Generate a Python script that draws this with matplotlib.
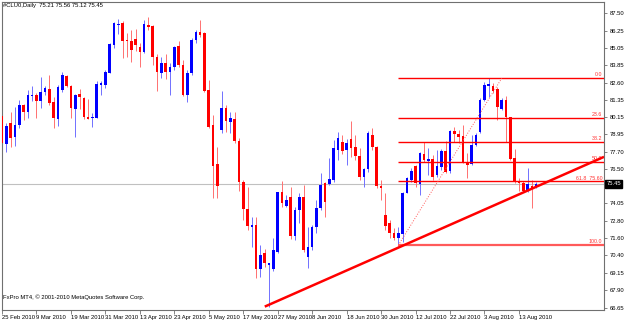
import matplotlib
matplotlib.use("Agg")
import matplotlib.pyplot as plt  # noqa: E402
import matplotlib.transforms as mtransforms  # noqa: E402

plt.rcParams["font.family"] = ["Liberation Sans", "DejaVu Sans"]
FS = 4.2

# daily bars #CLU0, bar 1 = 25 Feb 2010 ... bar 125 = 19 Aug 2010
OPEN = [80.23, 78.23, 79.76, 78.72, 79.60, 80.99, 80.51, 81.65, 81.72, 81.31,
        81.93, 82.16, 81.22, 80.00, 82.07, 83.06, 82.35, 80.75, 81.77, 81.53,
        80.16, 80.07, 80.11, 82.45, 82.45, 83.30, 85.26, 86.67, 86.79, 85.61,
        85.52, 85.66, 85.14, 84.78, 86.69, 86.60, 84.43, 83.25, 84.00, 83.37,
        83.68, 85.19, 83.84, 81.72, 83.25, 85.61, 86.20, 86.13, 82.07, 79.57,
        76.83, 79.24, 80.78, 79.83, 80.00, 78.48, 75.58, 73.63, 72.40, 72.52,
        69.38, 70.51, 69.69, 69.38, 70.59, 74.83, 73.86, 74.52, 71.74, 73.58,
        74.52, 70.23, 70.94, 72.40, 73.74, 75.47, 75.42, 75.70, 77.83, 78.41,
        77.83, 78.58, 78.06, 77.40, 75.89, 76.46, 78.89, 78.02, 75.28, 73.22,
        72.64, 71.97, 71.58, 71.88, 74.80, 75.70, 76.69, 75.42, 77.54, 77.07,
        77.17, 76.06, 76.64, 77.78, 76.36, 79.19, 78.96, 78.82, 77.00, 76.83,
        78.18, 79.12, 81.36, 82.35, 82.35, 82.12, 80.71, 81.36, 80.14, 77.24,
        75.65, 75.51, 74.99, 75.28, 75.21]
HIGH = [80.37, 79.71, 80.54, 80.89, 81.36, 81.08, 82.07, 82.35, 81.84, 83.01,
        82.35, 83.13, 81.55, 82.43, 83.35, 83.11, 82.43, 81.79, 82.16, 81.60,
        81.41, 80.42, 82.73, 82.73, 83.49, 85.38, 86.91, 87.07, 86.98, 86.08,
        86.32, 86.37, 85.38, 87.03, 87.26, 86.67, 84.62, 84.43, 84.62, 84.00,
        85.19, 85.56, 84.19, 83.49, 85.75, 86.32, 87.03, 86.20, 82.78, 80.30,
        78.06, 82.02, 81.01, 80.54, 80.54, 78.65, 75.70, 75.23, 73.10, 73.10,
        71.10, 70.80, 69.85, 71.58, 74.87, 75.63, 74.64, 75.23, 73.81, 74.80,
        75.35, 72.40, 72.52, 74.29, 76.18, 75.58, 77.24, 78.53, 79.12, 78.89,
        78.58, 79.88, 78.89, 77.95, 76.53, 79.19, 79.36, 78.11, 75.70, 74.76,
        72.87, 72.28, 72.40, 74.87, 75.94, 76.53, 76.76, 77.71, 78.41, 77.95,
        77.47, 77.83, 77.88, 78.48, 79.24, 79.47, 79.24, 79.60, 77.59, 78.89,
        79.01, 81.48, 82.66, 82.90, 82.59, 82.30, 81.48, 81.65, 80.18, 77.88,
        75.82, 75.65, 76.53, 75.70, 75.56]
LOW = [77.00, 77.70, 78.02, 78.11, 79.36, 79.95, 80.07, 81.31, 80.07, 80.78,
       81.72, 81.01, 79.36, 79.52, 81.95, 82.26, 80.07, 78.77, 80.75, 80.00,
       80.00, 79.47, 80.07, 81.72, 82.19, 83.25, 85.02, 86.03, 84.31, 84.43,
       84.07, 84.85, 83.72, 84.67, 86.32, 83.84, 82.00, 82.90, 82.83, 81.72,
       83.49, 83.72, 81.65, 81.24, 83.13, 85.40, 85.84, 81.95, 79.38, 74.43,
       74.41, 79.01, 79.12, 79.01, 78.34, 74.94, 72.87, 72.16, 70.98, 68.75,
       68.86, 69.57, 66.74, 69.28, 70.51, 73.81, 73.81, 71.51, 71.46, 72.64,
       70.63, 69.45, 70.75, 71.93, 73.58, 73.10, 75.35, 75.58, 77.12, 77.54,
       76.76, 77.35, 77.12, 75.70, 75.23, 76.29, 77.83, 75.11, 74.29, 72.16,
       71.58, 71.46, 71.05, 71.34, 74.76, 75.58, 75.23, 74.64, 77.00, 76.06,
       75.70, 75.94, 76.41, 76.18, 76.18, 78.41, 78.30, 76.88, 75.82, 76.76,
       78.11, 79.05, 81.31, 81.55, 81.84, 79.95, 80.66, 78.41, 77.12, 75.47,
       74.94, 74.87, 74.87, 73.70, 75.12]
CLOSE = [78.30, 79.52, 78.70, 79.60, 80.99, 80.54, 81.70, 81.72, 81.31, 81.93,
         82.19, 81.17, 80.07, 82.26, 83.11, 82.35, 80.82, 81.70, 81.58, 80.14,
         80.04, 80.14, 82.50, 82.55, 83.35, 85.31, 86.83, 86.74, 85.56, 85.54,
         84.90, 85.26, 84.78, 86.74, 86.55, 84.39, 83.32, 84.00, 83.37, 83.68,
         85.09, 83.84, 81.72, 83.30, 85.61, 86.20, 85.96, 82.02, 79.47, 76.71,
         75.30, 80.78, 79.90, 80.11, 78.48, 75.58, 73.63, 72.45, 72.52, 69.38,
         70.39, 69.85, 69.81, 70.75, 74.83, 74.05, 74.29, 71.74, 73.58, 74.52,
         70.75, 70.98, 72.40, 73.74, 75.35, 74.17, 75.75, 77.95, 78.65, 77.78,
         78.34, 77.95, 77.40, 75.94, 76.46, 79.05, 78.02, 75.28, 75.11, 72.45,
         71.93, 71.58, 71.93, 74.80, 75.82, 76.36, 75.47, 77.59, 77.12, 77.17,
         75.94, 76.69, 77.78, 76.29, 79.19, 78.96, 78.77, 76.93, 76.76, 78.18,
         78.89, 81.36, 82.43, 82.50, 82.02, 80.89, 81.36, 80.18, 77.17, 75.58,
         75.51, 74.94, 75.42, 75.11, 75.45]

DATE_BARS = [1, 9, 17, 25, 33, 41, 49, 57, 65, 73, 81, 89, 97, 105, 113, 121]
DATE_LABELS = ["25 Feb 2010", "9 Mar 2010", "19 Mar 2010", "31 Mar 2010",
               "13 Apr 2010", "23 Apr 2010", "5 May 2010", "17 May 2010",
               "27 May 2010", "8 Jun 2010", "18 Jun 2010", "30 Jun 2010",
               "12 Jul 2010", "22 Jul 2010", "3 Aug 2010", "13 Aug 2010"]
PRICE_TICKS = [87.50, 86.25, 85.05, 83.85, 82.60, 81.35, 80.15, 78.95, 77.70,
               76.50, 75.25, 74.05, 72.80, 71.60, 70.40, 69.15, 67.90, 66.65]
LAST_PRICE = 75.45

# fibonacci retracement: from low bar to high bar
FIB_BARS = (93, 117)
FIB_LOW, FIB_HIGH = 71.08, 82.90
FIB_LEVELS = [0.0, 23.6, 38.2, 50.0, 61.8, 100.0]
# trend line through the May low
TREND = [(62, 66.74), (125, 75.22)]

BULL, BEAR = "#0000ff", "#ff0000"
BULL_WICK, BEAR_WICK = "#7070ff", "#ff7070"
XLIM = (1.0, 140.75)
YLIM = (66.50, 88.32)

fig = plt.figure(figsize=(6.25, 3.2), dpi=100)
ax = fig.add_axes([2 / 625, 10 / 320, 602 / 625, 308.3 / 320])
ax.set_xlim(*XLIM); ax.set_ylim(*YLIM)

bars = list(range(1, len(OPEN) + 1))
up = [c >= o for o, c in zip(OPEN, CLOSE)]
ax.axhline(LAST_PRICE, color="#c0c0c0", lw=0.8, zorder=0)
ax.vlines(bars, LOW, HIGH, colors=[BULL_WICK if u else BEAR_WICK for u in up], lw=0.7, zorder=2)
ax.bar(bars, [max(abs(c - o), 0.06) for o, c in zip(OPEN, CLOSE)], bottom=[min(o, c) for o, c in zip(OPEN, CLOSE)],
       width=0.62, color=[BULL if u else BEAR for u in up], linewidth=0, zorder=3)

# --- fibo ---
xr = XLIM[1]
for lev in FIB_LEVELS:
    p = FIB_HIGH - lev / 100 * (FIB_HIGH - FIB_LOW)
    lw, col = (1.6, "#ff5a5a") if lev == 100.0 else (1.0, "#ff0000")
    ax.hlines(p, FIB_BARS[0], xr, color=col, lw=lw, zorder=4)
    lab = f"{lev:.1f}" + (f"  {p:.2f}" if lev == 61.8 else "")
    ax.text(xr - 0.4, p + 0.06, lab, ha="right", va="bottom", fontsize=3.8, color="#ff3030", zorder=5)
ax.plot(FIB_BARS, [FIB_LOW, FIB_HIGH], ls=":", color="#ff5a5a", lw=0.7, zorder=4)

# --- trend line (ray to the right edge) ---
(x0, y0), (x1, y1) = TREND
slope = (y1 - y0) / (x1 - x0)
ax.plot([x0, xr], [y0, y0 + slope * (xr - x0)], color="#ff0000", lw=1.8, solid_capstyle="butt", zorder=5)

# --- axes ---
for s in ax.spines.values():
    s.set_color("#707070"); s.set_linewidth(0.8)
ax.yaxis.tick_right()
ax.set_yticks(PRICE_TICKS)
# the price label under the last-price box is hidden, as in the terminal
ax.set_yticklabels(["" if abs(v - LAST_PRICE) < 0.5 else f"{v:.2f}" for v in PRICE_TICKS])
ax.set_xticks(DATE_BARS); ax.set_xticklabels(DATE_LABELS, ha="left")
ax.tick_params(axis="y", length=2.5, width=0.6, labelsize=FS, pad=1.5, color="#707070")
ax.tick_params(axis="x", length=3, width=0.6, labelsize=FS, pad=0.5, color="#707070")

tr = mtransforms.blended_transform_factory(ax.transAxes, ax.transData)
ax.text(1.004, LAST_PRICE, f"{LAST_PRICE:.2f}", transform=tr, color="white", fontsize=FS, va="center", ha="left",
        bbox=dict(boxstyle="square,pad=0.25", fc="black", ec="black"), clip_on=False, zorder=10)

fig.text(3 / 625, 1 - 5.5 / 320, "#CLU0,Daily  75.21 75.56 75.12 75.45", fontsize=FS, va="center")
fig.text(3 / 625, 1 - 297 / 320, "FxPro MT4, \u00a9 2001-2010 MetaQuotes Software Corp.", fontsize=FS, va="center")

fig.savefig("out.png", dpi=100)
